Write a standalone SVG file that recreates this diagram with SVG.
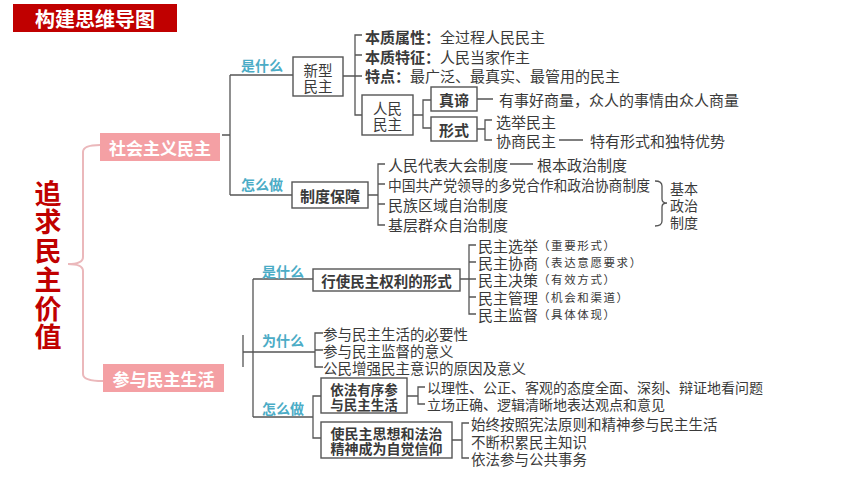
<svg xmlns="http://www.w3.org/2000/svg" width="860" height="484" viewBox="0 0 860 484">
<style>
.bg{fill:#fff}
.box{fill:#fff;stroke:#555;stroke-width:1.4}
.ln{fill:none;stroke:#555;stroke-width:1.3}
.t{font-family:"Noto Sans CJK SC","Noto Sans",sans-serif;font-size:15px;fill:#3a3a3a;dominant-baseline:central}
.s{font-size:14.5px}
.m{font-size:14px}
.b{font-weight:bold}
.c{text-anchor:middle}
.lab{font-family:"Noto Sans CJK SC",sans-serif;font-size:14px;font-weight:bold;fill:#4bacc6;dominant-baseline:central}
.p{font-size:11.5px;letter-spacing:1.6px}
.pink{fill:#f4a0a4}
.w{fill:#fff;font-weight:bold;font-size:17px;text-anchor:middle}
</style>
<rect class="bg" x="0" y="0" width="860" height="484"/>

<g id="title">
<rect x="13" y="4" width="164" height="28" fill="#c00000"/>
<text class="t c b" x="95" y="18" style="font-size:20px;fill:#fff">构建思维导图</text>
</g>

<g id="root">
<text x="48" y="180" style="font-family:'Noto Sans CJK SC',sans-serif;writing-mode:vertical-rl;font-size:27px;letter-spacing:1.7px;font-weight:bold;fill:#c00000">追求民主价值</text>
</g>

<g id="connectors">
<path d="M100,145 Q83,145 83,152 L83,257 Q83,264 68,264 Q83,264 83,271 L83,374 Q83,381 103,381" fill="none" stroke="#ebb8bb" stroke-width="2"/>
<path class="ln" d="M222,135 H230 M230,75 V195 M230,75 H293 M230,195 H292"/>
<path class="ln" d="M343,76 H355 M362,35 H355 V115 H362 M355,55 H362 M355,76 H362"/>
<path class="ln" d="M413,115 H423 M431,100 H423 V128 H431"/>
<path class="ln" d="M477,99 H493 M477,129 H485 M492,120 H485 V140 H492 M559,140 H583"/>
<path class="ln" d="M368,195 H378 M385,164 H378 V225 H385 M378,184 H385 M378,204 H385 M510,164 H533"/>
<path class="ln" d="M655,181 Q662,181 662,186 L662,199 Q662,203 667,203 Q662,203 662,207 L662,221 Q662,226 655,226"/>
<path class="ln" d="M243,335 V367 M243,352 H253 M253,279 V417 M253,279 H313 M253,352 H315 M323,333 H315 V367 H323 M315,350 H323"/>
<path class="ln" d="M253,417 H313 M321,396 H313 V438 H321"/>
<path class="ln" d="M407,396 H418 M425,387 H418 V404 H425"/>
<path class="ln" d="M452,440 H462 M469,423 H462 V458 H469"/>
<path class="ln" d="M460,279 H469 M476,245 H469 V314 H476 M469,262 H476 M469,279 H476 M469,297 H476"/>
</g>

<g id="labels">
<text class="lab" x="241" y="65">是什么</text>
<text class="lab" x="241" y="184">怎么做</text>
<text class="lab" x="262" y="271">是什么</text>
<text class="lab" x="262" y="340">为什么</text>
<text class="lab" x="262" y="408">怎么做</text>
</g>

<g id="n-shehui">
<rect class="pink" x="100" y="133" width="120" height="28"/>
<text class="t w" x="160" y="147">社会主义民主</text>
</g>
<g id="n-canyu">
<rect class="pink" x="103" y="364" width="121" height="28"/>
<text class="t w" x="163.5" y="378">参与民主生活</text>
</g>

<g id="n-xinxing">
<rect class="box" x="293" y="57" width="50" height="39"/>
<text class="t c s"><tspan x="318" y="68.5">新型</tspan><tspan x="318" y="84.5">民主</tspan></text>
</g>
<g id="n-leaf1">
<text class="t"><tspan x="365" y="36"><tspan class="b">本质属性：</tspan>全过程人民民主</tspan><tspan x="365" y="56"><tspan class="b">本质特征：</tspan>人民当家作主</tspan><tspan x="365" y="75"><tspan class="b">特点：</tspan>最广泛、最真实、最管用的民主</tspan></text>
</g>
<g id="n-renmin">
<rect class="box" x="362" y="95" width="51" height="40"/>
<text class="t c s"><tspan x="387.5" y="107">人民</tspan><tspan x="387.5" y="123">民主</tspan></text>
</g>
<g id="n-zhendi">
<rect class="box" x="431" y="87" width="46" height="24"/>
<text class="t c b" x="454" y="99">真谛</text>
<text class="t" x="499" y="99">有事好商量，众人的事情由众人商量</text>
</g>
<g id="n-xingshi">
<rect class="box" x="431" y="117" width="46" height="24"/>
<text class="t c b" x="454" y="129">形式</text>
<text class="t"><tspan x="496" y="121">选举民主</tspan><tspan x="496" y="140">协商民主</tspan><tspan x="590" y="140">特有形式和独特优势</tspan></text>
</g>
<g id="n-zhidu">
<rect class="box" x="292" y="182" width="76" height="26"/>
<text class="t c b" x="330" y="195">制度保障</text>
<text class="t"><tspan x="388" y="164">人民代表大会制度</tspan><tspan x="537" y="164">根本政治制度</tspan><tspan x="388" y="184" textLength="262" lengthAdjust="spacingAndGlyphs">中国共产党领导的多党合作和政治协商制度</tspan><tspan x="388" y="204">民族区域自治制度</tspan><tspan x="388" y="224">基层群众自治制度</tspan></text>
<text class="t m"><tspan x="670" y="188">基本</tspan><tspan x="670" y="205">政治</tspan><tspan x="670" y="222">制度</tspan></text>
</g>

<g id="n-xingshi2">
<rect class="box" x="313" y="269" width="147" height="22"/>
<text class="t c b s" x="386.5" y="280">行使民主权利的形式</text>
<text class="t"><tspan x="478" y="245">民主选举<tspan class="p">（重要形式）</tspan></tspan><tspan x="478" y="262">民主协商<tspan class="p">（表达意愿要求）</tspan></tspan><tspan x="478" y="279">民主决策<tspan class="p">（有效方式）</tspan></tspan><tspan x="478" y="297">民主管理<tspan class="p">（机会和渠道）</tspan></tspan><tspan x="478" y="314">民主监督<tspan class="p">（具体体现）</tspan></tspan></text>
</g>
<g id="n-weishenme">
<text class="t s"><tspan x="323" y="333">参与民主生活的必要性</tspan><tspan x="323" y="350">参与民主监督的意义</tspan><tspan x="323" y="367">公民增强民主意识的原因及意义</tspan></text>
</g>
<g id="n-yifa">
<rect class="box" x="321" y="378" width="86" height="35"/>
<text class="t c b" style="font-size:13.5px"><tspan x="364" y="388.5">依法有序参</tspan><tspan x="364" y="403.5">与民主生活</tspan></text>
<text class="t m"><tspan x="427" y="387">以理性、公正、客观的态度全面、深刻、辩证地看问题</tspan><tspan x="427" y="404">立场正确、逻辑清晰地表达观点和意见</tspan></text>
</g>
<g id="n-xinyang">
<rect class="box" x="321" y="422" width="131" height="36"/>
<text class="t c b m"><tspan x="386.5" y="432.5">使民主思想和法治</tspan><tspan x="386.5" y="448">精神成为自觉信仰</tspan></text>
<text class="t s"><tspan x="471" y="423">始终按照宪法原则和精神参与民主生活</tspan><tspan x="471" y="441">不断积累民主知识</tspan><tspan x="471" y="458">依法参与公共事务</tspan></text>
</g>
</svg>
